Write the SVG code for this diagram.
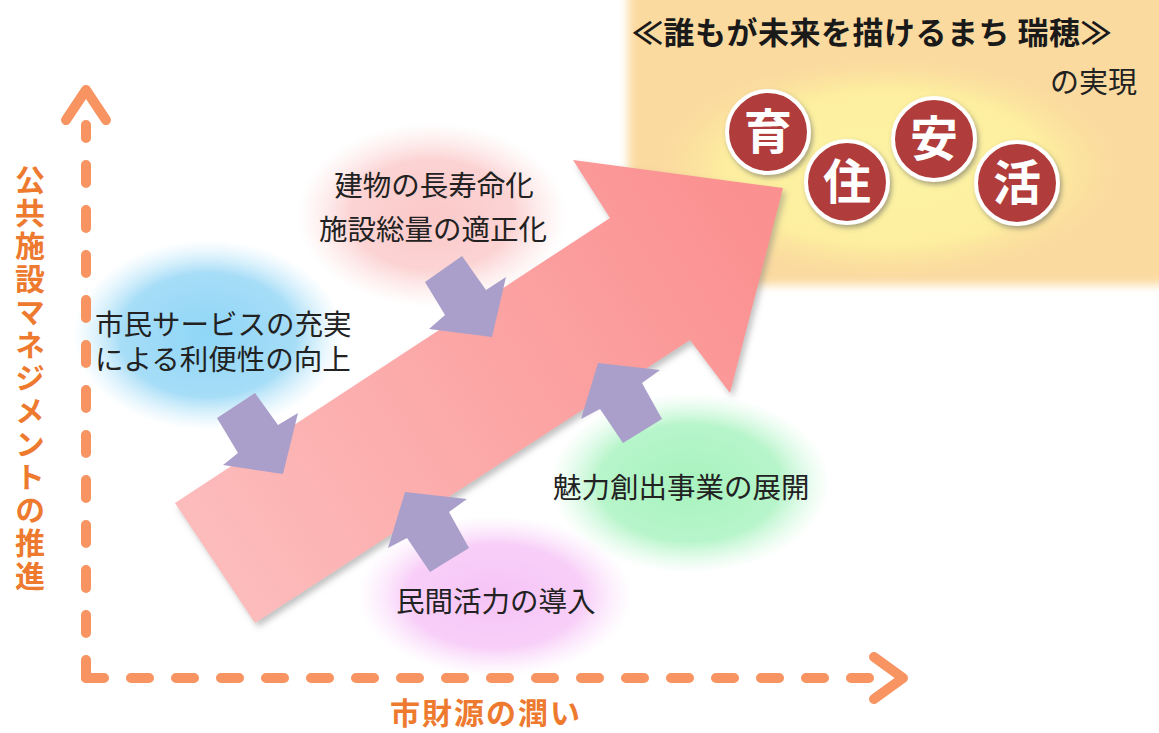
<svg xmlns="http://www.w3.org/2000/svg" width="1159" height="733" viewBox="0 0 1159 733">
<defs>
<style>
.lbl{font-family:"Noto Sans CJK JP","Noto Sans CJK SC",sans-serif;font-size:28.5px;fill:#222;}
.axis{fill:none;stroke:#f79462;stroke-width:10;stroke-linecap:round;stroke-linejoin:round;}
.dash{stroke-dasharray:18 27;}
.axlbl{font-family:"Noto Sans CJK JP","Noto Sans CJK SC",sans-serif;font-weight:bold;font-size:30px;fill:#ed7a2f;}
.purple{fill:#a99fca;}
.coin{fill:#b03d3a;stroke:#fff;stroke-width:4;}
.coinTxt{font-family:"Noto Sans CJK JP","Noto Sans CJK SC",sans-serif;font-weight:bold;font-size:48px;fill:#fff;text-anchor:middle;}
</style>
<radialGradient id="gPink"><stop offset="0" stop-color="#fbc9c9"/><stop offset="0.6" stop-color="#fcd3d3"/><stop offset="1" stop-color="#fde2e2" stop-opacity="0"/></radialGradient>
<radialGradient id="gBlue"><stop offset="0" stop-color="#8fd6f7"/><stop offset="0.65" stop-color="#a6ddf7"/><stop offset="1" stop-color="#c8ebfb" stop-opacity="0"/></radialGradient>
<radialGradient id="gGreen"><stop offset="0" stop-color="#a8f3bf"/><stop offset="0.65" stop-color="#b7f5ca"/><stop offset="1" stop-color="#d2f9de" stop-opacity="0"/></radialGradient>
<radialGradient id="gViolet"><stop offset="0" stop-color="#f6c4f6"/><stop offset="0.65" stop-color="#f8cff8"/><stop offset="1" stop-color="#fbe0fb" stop-opacity="0"/></radialGradient>
<radialGradient id="gYellow"><stop offset="0" stop-color="#fdf3a4"/><stop offset="0.7" stop-color="#fdef9f"/><stop offset="1" stop-color="#fce39c" stop-opacity="0"/></radialGradient>
<linearGradient id="gArrow" gradientUnits="userSpaceOnUse" x1="215" y1="565" x2="760" y2="220"><stop offset="0" stop-color="#fdbcbc"/><stop offset="1" stop-color="#fb9090"/></linearGradient>
<filter id="soft" x="-10%" y="-10%" width="120%" height="120%"><feGaussianBlur stdDeviation="5"/></filter>
<filter id="shadow" x="-10%" y="-10%" width="125%" height="125%"><feDropShadow dx="3" dy="4" stdDeviation="3" flood-color="#777" flood-opacity="0.45"/></filter>
<filter id="cshadow" x="-20%" y="-20%" width="150%" height="150%"><feDropShadow dx="2" dy="3" stdDeviation="2.5" flood-color="#555" flood-opacity="0.5"/></filter>
</defs>
<rect width="1159" height="733" fill="#fff"/>

<g id="goal">
<rect x="628" y="-30" width="560" height="315" rx="30" fill="#fbdaa0" filter="url(#soft)"/>
<ellipse cx="888" cy="168" rx="230" ry="110" fill="url(#gYellow)"/>
<text x="632" y="44" font-family="Noto Sans CJK JP, sans-serif" font-weight="bold" font-size="31" fill="#1a1a1a" letter-spacing="0.5">≪誰もが未来を描けるまち 瑞穂≫</text>
<text x="1137" y="93" font-family="Noto Sans CJK JP, sans-serif" font-size="29" fill="#222" text-anchor="end">の実現</text>
</g>

<g id="bubble-longevity">
<ellipse cx="432" cy="215" rx="135" ry="92" fill="url(#gPink)"/>
</g>
<g id="bubble-service">
<ellipse cx="208" cy="335" rx="135" ry="95" fill="url(#gBlue)"/>
</g>
<g id="bubble-attraction">
<ellipse cx="690" cy="483" rx="140" ry="90" fill="url(#gGreen)"/>
</g>
<g id="bubble-private">
<ellipse cx="495" cy="596" rx="137" ry="80" fill="url(#gViolet)"/>
</g>

<g id="main-arrow">
<polygon points="175,503 610,218 573,160 783,188 730,393 690,340 255,623" fill="url(#gArrow)" filter="url(#shadow)"/>
</g>

<g id="values">
<g id="v-iku"><circle cx="768" cy="132" r="41" class="coin" filter="url(#cshadow)"/><text x="768" y="149" class="coinTxt">育</text></g>
<g id="v-ju"><circle cx="847" cy="182" r="41" class="coin" filter="url(#cshadow)"/><text x="847" y="199" class="coinTxt">住</text></g>
<g id="v-an"><circle cx="934" cy="139" r="41" class="coin" filter="url(#cshadow)"/><text x="934" y="156" class="coinTxt">安</text></g>
<g id="v-katsu"><circle cx="1017" cy="183" r="41" class="coin" filter="url(#cshadow)"/><text x="1017" y="200" class="coinTxt">活</text></g>
</g>

<g id="texts">
<text class="lbl" x="434" y="196" text-anchor="middle">建物の長寿命化</text>
<text class="lbl" x="433" y="240" text-anchor="middle">施設総量の適正化</text>
<text class="lbl" x="95" y="335">市民サービスの充実</text>
<text class="lbl" x="95" y="370">による利便性の向上</text>
<text class="lbl" x="553" y="498">魅力創出事業の展開</text>
<text class="lbl" x="396" y="612">民間活力の導入</text>
</g>

<g id="connectors">
<polygon class="purple" points="425,282 462,256 486,290 506,277 492,337 429,329 445,315"/>
<polygon class="purple" points="217,418 255,393 278,425 298,413 283,474 223,465 238,453"/>
<polygon class="purple" points="405,492 467,499 449,512 469,548 430,572 407,538 388,548"/>
<polygon class="purple" points="598,363 660,370 642,383 662,419 623,443 600,409 581,419"/>
<path class="axis dash" d="M86,678 V125"/>
<path class="axis dash" d="M86,678 H880"/>
<path class="axis" d="M66,120 L86,90 L106,120"/>
<path class="axis" d="M874,657 L903,678 L874,699"/>
</g>

<g id="axis-labels">
<text class="axlbl" x="30" y="165" style="writing-mode:vertical-rl" letter-spacing="3">公共施設マネジメントの推進</text>
<text class="axlbl" x="486" y="724" text-anchor="middle" letter-spacing="2">市財源の潤い</text>
</g>
</svg>
